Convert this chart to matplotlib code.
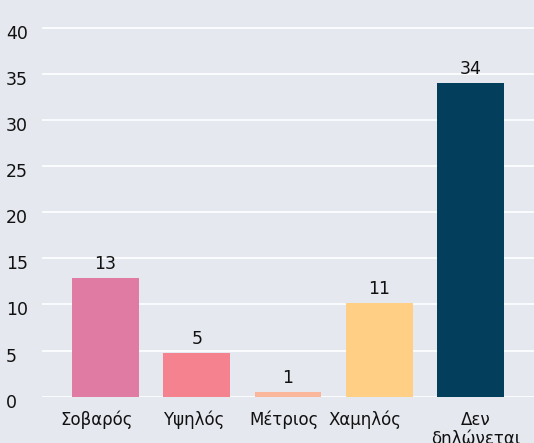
import matplotlib
matplotlib.use("Agg")
import matplotlib.pyplot as plt
from matplotlib.transforms import ScaledTranslation

categories = ["Σοβαρός", "Υψηλός", "Μέτριος", "Χαμηλός", "Δεν\nδηλώνεται"]
values = [12.9, 4.75, 0.5, 10.2, 34.0]
value_labels = ["13", "5", "1", "11", "34"]
colors = ["#E07CA4", "#F4838F", "#FBB79C", "#FECF84", "#033F5C"]
yticks = [0, 5, 10, 15, 20, 25, 30, 35, 40]

# small horizontal nudges of the category labels (pixels), as in the reference
label_shift_px = [-8.5, -3.5, -4, -14, 5.5]

bg = "#E5E8EF"
plt.rcParams["font.family"] = ["DejaVu Sans"]

fig = plt.figure(figsize=(5.34, 4.43), dpi=100, facecolor=bg)
ax = fig.add_axes([42 / 534, (443 - 396.7) / 443, 1 - 42 / 534, 396.7 / 443])
ax.set_facecolor(bg)

x = list(range(len(categories)))
bars = ax.bar(x, values, width=0.73, color=colors, zorder=3)
ax.bar_label(bars, labels=value_labels, padding=3.4, fontsize=12.5, color="#111111")

ax.set_xlim(-0.696, len(categories) - 1 + 0.696)
ax.set_ylim(0, 43.0)
ax.set_yticks(yticks)
ax.set_xticks(x)
ax.set_xticklabels(categories, fontsize=12, color="#111111", va="top", linespacing=1.05)
ax.set_yticklabels([str(t) for t in yticks], fontsize=12.5, color="#111111", ha="left")
ax.tick_params(axis="y", length=0, pad=25.8)
ax.tick_params(axis="x", length=0, pad=10)
ax.grid(axis="y", color="white", linewidth=1.2, zorder=0)
ax.grid(axis="x", visible=False)
for s in ax.spines.values():
    s.set_visible(False)

for lab in ax.get_yticklabels():
    lab.set_transform(lab.get_transform() + ScaledTranslation(0, -4 / 100, fig.dpi_scale_trans))
for lab, dx in zip(ax.get_xticklabels(), label_shift_px):
    lab.set_transform(lab.get_transform() + ScaledTranslation(dx / 100, 0, fig.dpi_scale_trans))

fig.savefig("out.png", dpi=100, facecolor=bg)
